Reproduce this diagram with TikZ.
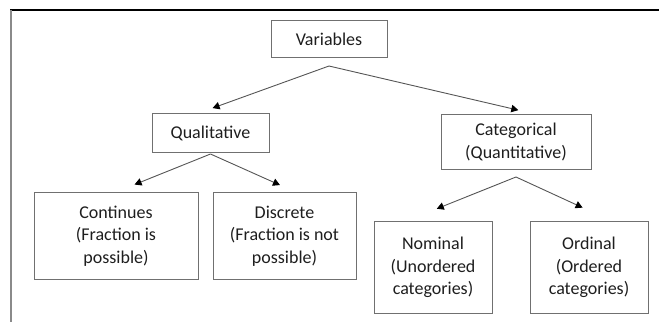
\documentclass[tikz,border=0pt]{standalone}
\usepackage{fontspec}
\setmainfont{Carlito}
\usetikzlibrary{arrows.meta}
\definecolor{boxgray}{HTML}{707070}
\definecolor{arrowgray}{HTML}{555555}
\definecolor{framegray}{HTML}{8A8A8A}
\definecolor{textblack}{HTML}{1E1E1E}
\tikzset{apex gap/.store in=\apexgap, apex gap=8pt}
\begin{document}
\begin{tikzpicture}[x=1pt, y=1pt,
    nodes={draw=boxgray, line width=1pt, anchor=north, align=center, inner sep=0pt,
      text=textblack, font=\fontsize{18}{22.7}\selectfont},
    growth parent anchor=north,
    level distance=93pt, level 1/.style={sibling distance=305.5pt},
    level 2/.style={sibling distance=162pt, level distance=79pt},
    edge from parent/.style={draw=arrowgray, line width=0.9pt,
      -{Triangle[length=7pt, width=7.5pt, color=black]}},
    edge from parent path={([yshift=-\apexgap]\tikzparentnode.south) -- (\tikzchildnode\tikzchildanchor)}]
  \useasboundingbox (0,0) rectangle (659,-322);
  \draw[black, line width=1.5pt] (10,-10) -- (659,-10);
  \draw[framegray, line width=2pt] (11,-10) -- (11,-322);
  \node[minimum width=116pt, minimum height=37pt] (variables) at (329,-20) {Variables}
    child[xshift=34.25pt, child anchor=120] {node[minimum width=117pt, minimum height=39pt] (qualitative) {Qualitative}
      child[xshift=-13.5pt, apex gap=1pt, child anchor=north] {node[minimum width=164pt, minimum height=87pt] (continues) {Continues\\(Fraction is\\possible)}
        edge from parent[shorten >=20pt]}
      child[xshift=-7pt, apex gap=1pt, child anchor=76] {node[minimum width=143pt, minimum height=87pt] (discrete) {Discrete\\(Fraction is not\\possible)}
        edge from parent[shorten >=17pt]}
      edge from parent[shorten >=14.5pt]}
    child[xshift=34.25pt, yshift=-1pt, child anchor=56] {node[minimum width=150pt, minimum height=55pt] (categorical) {Categorical\\(Quantitative)}
      child[xshift=-2pt, yshift=-28pt, apex gap=7pt, child anchor=120] {node[minimum width=118pt, minimum height=92pt] (nominal) {Nominal\\(Unordered\\categories)}
        edge from parent[shorten >=33pt]}
      child[xshift=-8pt, yshift=-28pt, apex gap=7pt, child anchor=64] {node[minimum width=118pt, minimum height=92pt] (ordinal) {Ordinal\\(Ordered\\categories)}
        edge from parent[shorten >=32pt]}
      edge from parent[shorten >=17pt]};
\end{tikzpicture}
\end{document}
